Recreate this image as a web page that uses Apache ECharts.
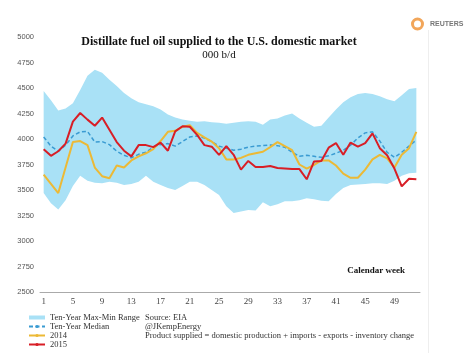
<!DOCTYPE html>
<html>
<head>
<meta charset="utf-8">
<script src="https://cdn.jsdelivr.net/npm/echarts@6/dist/echarts.min.js"></script>
<style>
	html, body { margin: 0; padding: 0; background: #fff; }
	#main { width: 474px; height: 353px; }
</style>
</head>
<body>
<div id="main"></div>
<script>
// calendar weeks 1..52
const weeks = ['1', '2', '3', '4', '5', '6', '7', '8', '9', '10', '11', '12', '13',
	'14', '15', '16', '17', '18', '19', '20', '21', '22', '23', '24', '25', '26',
	'27', '28', '29', '30', '31', '32', '33', '34', '35', '36', '37', '38', '39',
	'40', '41', '42', '43', '44', '45', '46', '47', '48', '49', '50', '51', '52'];

// ten-year max / min (000 b/d)
const maxRange = [4470, 4380, 4280, 4300, 4350, 4480, 4620, 4680, 4650, 4580, 4520, 4450, 4400,
	4360, 4340, 4320, 4290, 4240, 4210, 4190, 4180, 4170, 4175, 4165, 4160, 4150,
	4160, 4170, 4175, 4170, 4140, 4190, 4200, 4230, 4250, 4200, 4160, 4120, 4130,
	4210, 4290, 4360, 4410, 4440, 4450, 4440, 4420, 4390, 4370, 4430, 4490, 4500];
const minRange = [3470, 3370, 3310, 3400, 3540, 3640, 3590, 3570, 3565, 3580, 3570, 3550, 3560,
	3580, 3640, 3580, 3550, 3520, 3500, 3540, 3580, 3580, 3550, 3500, 3450, 3340,
	3275, 3290, 3305, 3300, 3380, 3340, 3360, 3390, 3390, 3400, 3420, 3410, 3395,
	3390, 3460, 3520, 3550, 3555, 3560, 3565, 3565, 3560, 3590, 3640, 3665, 3670];
const median = [4020, 3930, 3880, 3940, 4030, 4070, 4075, 3970, 3975, 3945, 3880, 3840, 3815,
	3850, 3870, 3920, 3945, 3955, 3930, 3975, 4020, 4030, 4010, 3975, 3930, 3910,
	3890, 3900, 3920, 3930, 3935, 3940, 3935, 3920, 3870, 3830, 3840, 3830, 3820,
	3835, 3860, 3890, 3940, 4010, 4060, 4070, 3980, 3870, 3820, 3870, 3930, 3990];
const y2014 = [3650, 3560, 3470, 3720, 3970, 3980, 3940, 3720, 3635, 3615, 3740, 3720, 3790,
	3830, 3860, 3900, 3980, 4070, 4080, 4120, 4135, 4060, 4015, 3975, 3910, 3800,
	3800, 3815, 3845, 3860, 3875, 3920, 3970, 3930, 3890, 3750, 3710, 3745, 3790,
	3790, 3740, 3660, 3620, 3620, 3700, 3800, 3845, 3810, 3720, 3845, 3910, 4070];
const y2015 = [3900, 3835, 3880, 3955, 4170, 4255, 4190, 4130, 4210, 4090, 3970, 3885, 3830,
	3940, 3940, 3920, 3965, 3885, 4075, 4125, 4120, 4040, 3940, 3925, 3845, 3930,
	3845, 3700, 3785, 3725, 3725, 3735, 3715, 3710, 3705, 3705, 3605, 3780, 3785,
	3915, 3960, 3845, 3965, 3925, 3960, 4055, 3910, 3840, 3710, 3535, 3610, 3605];

const sourceLines = ['Source: EIA', '@JKempEnergy',
	'Product supplied = domestic production + imports - exports - inventory change'];

const serif = 'Liberation Serif';
const bandColor = '#a9e1f6';

// band height on top of the min series
const rangeSpan = maxRange.map((v, i) => v - minRange[i]);

const option = {
	animation: false,
	backgroundColor: '#fff',
	grid: {
		left: 40,
		right: 54,
		top: 37,
		bottom: 61,
		containLabel: false
	},
	legend: {
		orient: 'vertical',
		left: 28,
		top: 313,
		height: 40,
		padding: 0,
		itemWidth: 16,
		itemHeight: 4,
		itemGap: 0,
		textStyle: {
			fontFamily: serif,
			fontSize: 8.5,
			color: '#333',
			lineHeight: 9
		},
		data: [
			{ name: 'Ten-Year Max-Min Range', icon: 'rect' },
			'Ten-Year Median',
			'2014',
			'2015'
		]
	},
	xAxis: {
		type: 'category',
		data: weeks,
		boundaryGap: true,
		axisLine: {
			lineStyle: { color: '#aaa', width: 1 }
		},
		axisTick: {
			interval: 3,
			inside: true,
			length: 3,
			lineStyle: { color: '#aaa' }
		},
		axisLabel: {
			interval: 3,
			margin: 5,
			fontFamily: serif,
			fontSize: 9,
			color: '#444'
		},
		splitLine: { show: false }
	},
	yAxis: {
		type: 'value',
		min: 2500,
		max: 5000,
		interval: 250,
		axisLine: { show: false },
		axisTick: { show: false },
		splitLine: { show: false },
		axisLabel: {
			margin: 6,
			fontFamily: 'Liberation Sans',
			fontSize: 7.5,
			color: '#555',
			formatter: v => String(v)
		}
	},
	series: [
		{
			name: 'min',
			type: 'line',
			stack: 'band',
			data: minRange,
			symbol: 'none',
			lineStyle: { width: 0, opacity: 0 },
			silent: true
		},
		{
			name: 'Ten-Year Max-Min Range',
			type: 'line',
			stack: 'band',
			data: rangeSpan,
			symbol: 'none',
			itemStyle: { color: bandColor },
			lineStyle: { width: 0, opacity: 0 },
			areaStyle: { color: bandColor, opacity: 1 },
			silent: true
		},
		{
			name: 'Ten-Year Median',
			type: 'line',
			data: median,
			symbol: 'none',
			itemStyle: { color: '#3a9bd2' },
			lineStyle: { color: '#3a9bd2', width: 1.5, type: [4, 2.5] }
		},
		{
			name: '2014',
			type: 'line',
			data: y2014,
			symbol: 'none',
			itemStyle: { color: '#ecb935' },
			lineStyle: { color: '#ecb935', width: 2 }
		},
		{
			name: '2015',
			type: 'line',
			data: y2015,
			symbol: 'none',
			itemStyle: { color: '#d81e26' },
			lineStyle: { color: '#d81e26', width: 2 }
		}
	],
	graphic: [
		{
			type: 'text',
			x: 219,
			y: 42,
			style: {
				text: 'Distillate fuel oil supplied to the U.S. domestic market',
				font: 'bold 12px "Liberation Serif"',
				fill: '#111',
				align: 'center',
				verticalAlign: 'middle'
			}
		},
		{
			type: 'text',
			x: 219,
			y: 55,
			style: {
				text: '000 b/d',
				font: '11px "Liberation Serif"',
				fill: '#111',
				align: 'center',
				verticalAlign: 'middle'
			}
		},
		{
			type: 'text',
			x: 405,
			y: 271,
			style: {
				text: 'Calendar week',
				font: 'bold 9px "Liberation Serif"',
				fill: '#111',
				align: 'right',
				verticalAlign: 'middle'
			}
		},
		{
			type: 'text',
			x: 145,
			y: 313,
			style: {
				text: sourceLines.join('\n'),
				font: '8.5px "Liberation Serif"',
				lineHeight: 9,
				fill: '#333',
				align: 'left',
				verticalAlign: 'top'
			}
		},
		// thin separator on the right
		{
			type: 'line',
			shape: { x1: 428.5, y1: 30, x2: 428.5, y2: 353 },
			style: { stroke: '#eee', lineWidth: 1 }
		},
		// reuters mark
		{
			type: 'circle',
			shape: { cx: 417.5, cy: 24, r: 5 },
			style: { fill: 'none', stroke: '#f2a65a', lineWidth: 3 }
		},
		{
			type: 'text',
			x: 430,
			y: 24,
			style: {
				text: 'REUTERS',
				font: 'bold 7px "Liberation Sans"',
				fill: '#777',
				align: 'left',
				verticalAlign: 'middle'
			}
		}
	]
};

const chart = echarts.init(document.getElementById('main'), null, { renderer: 'canvas' });
chart.setOption(option);
</script>
</body>
</html>
